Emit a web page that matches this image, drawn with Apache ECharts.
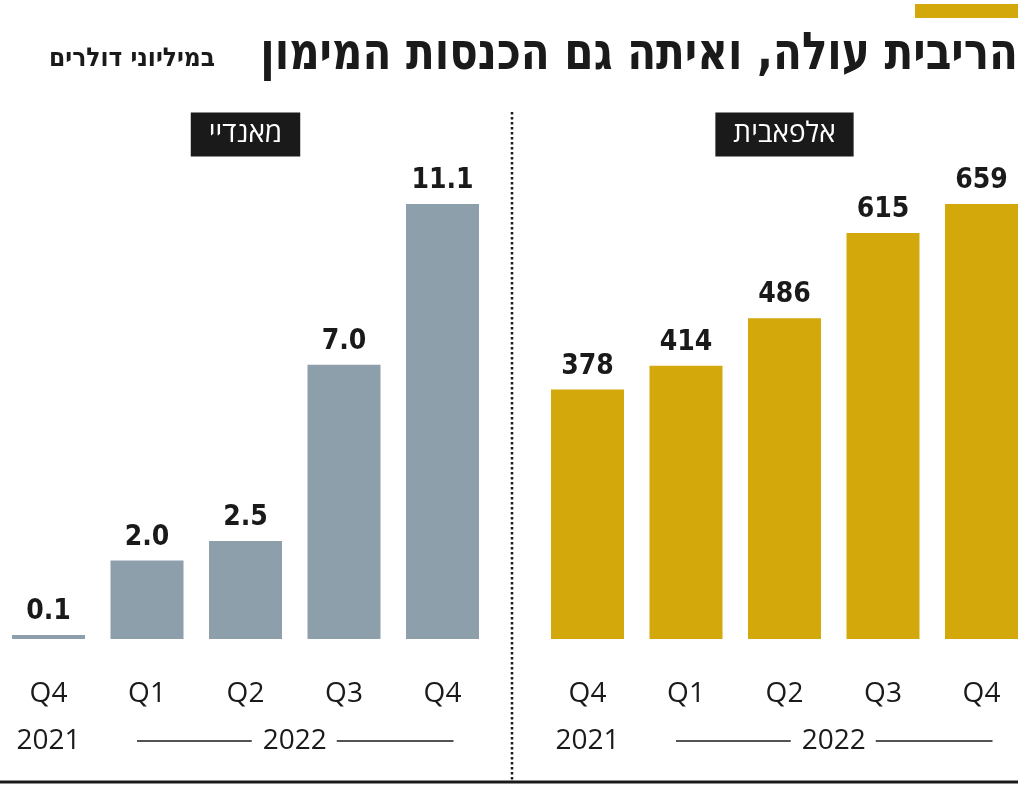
<!DOCTYPE html>
<html>
<head>
<meta charset="utf-8">
<script src="https://cdn.jsdelivr.net/npm/echarts@6/dist/echarts.min.js"></script>
<style>
html,body{margin:0;padding:0;background:#fff;}
#chart{width:1024px;height:786px;}
</style>
</head>
<body>
<div id="chart"></div>
<script>
const categories = ['Q4', 'Q1', 'Q2', 'Q3', 'Q4'];
const yearLabels = ['2021', '2022'];
const mondayName = 'מאנדיי';
const alphabetName = 'אלפאבית';
const mondayValues = [0.1, 2.0, 2.5, 7.0, 11.1];
const alphabetValues = [378, 414, 486, 615, 659];
const titleText = 'הריבית עולה, ואיתה גם הכנסות המימון';
const subtitleText = 'במיליוני דולרים';

const GOLD = '#D3A80B';
const GREY = '#8E9FAC';
const INK = '#1a1a1a';
const LABEL_FONT = '"Open Sans", "DejaVu Sans", sans-serif';
const VALUE_FONT = '"DejaVu Sans Condensed", "DejaVu Sans", sans-serif';

const chart = echarts.init(document.getElementById('chart'), null, {renderer: 'canvas'});

const gridTop = 204, gridBottom = 147;
function xAxis(idx) {
  return {
    type: 'category', gridIndex: idx, data: categories, boundaryGap: false,
    axisLine: {show: false}, axisTick: {show: false},
    axisLabel: {color: INK, fontSize: 28, fontFamily: LABEL_FONT, margin: 41}
  };
}
function yAxis(idx, max) {
  return {type: 'value', gridIndex: idx, min: 0, max: max, show: false, splitLine: {show: false}};
}
function barSeries(idx, data, color, fmt) {
  return {
    type: 'bar', xAxisIndex: idx, yAxisIndex: idx, data: data, barWidth: 73,
    itemStyle: {color: color},
    label: {
      show: true, position: 'top', distance: 9, color: INK,
      fontSize: 28, fontWeight: 'bold', fontFamily: VALUE_FONT,
      formatter: p => fmt(p.value)
    }
  };
}

chart.setOption({
  animation: false,
  grid: [
    {left: 48.5, width: 394, top: gridTop, bottom: gridBottom},
    {left: 587.5, width: 394, top: gridTop, bottom: gridBottom}
  ],
  xAxis: [xAxis(0), xAxis(1)],
  yAxis: [yAxis(0, Math.max(...mondayValues)), yAxis(1, Math.max(...alphabetValues))],
  series: [
    barSeries(0, mondayValues, GREY, v => v.toFixed(1)),
    barSeries(1, alphabetValues, GOLD, v => String(v))
  ]
});

function px(gridIdx, catIdx) {
  return chart.convertToPixel({xAxisIndex: gridIdx}, catIdx);
}
const graphics = [];
graphics.push({type: 'rect', shape: {x: 915, y: 4, width: 103, height: 14}, style: {fill: GOLD}});
graphics.push({type: 'text', x: 1018, y: 55, scaleX: 0.9, style: {
  text: titleText, align: 'right', verticalAlign: 'middle', fill: INK,
  font: 'bold 52px "DejaVu Sans Condensed", "DejaVu Sans", sans-serif'}});
graphics.push({type: 'text', x: 215, y: 59, style: {
  text: subtitleText, align: 'right', verticalAlign: 'middle', fill: INK,
  font: 'bold 26px "DejaVu Sans Condensed", "DejaVu Sans", sans-serif'}});
[[0, mondayName], [1, alphabetName]].forEach(([g, name]) => {
  const cx = px(g, 2);
  graphics.push({type: 'text', x: cx, y: 134.5, style: {
    text: name, align: 'center', verticalAlign: 'middle', fill: '#fff',
    backgroundColor: INK, padding: [9, 18, 7, 18],
    font: '28px "Open Sans", "DejaVu Sans", sans-serif'}});
});
const yearY = 741;
[0, 1].forEach(g => {
  graphics.push({type: 'text', x: px(g, 0), y: yearY, style: {
    text: yearLabels[0], align: 'center', verticalAlign: 'middle', fill: INK,
    font: '28px ' + LABEL_FONT}});
  const mid = (px(g, 2) + px(g, 3)) / 2;
  graphics.push({type: 'text', x: mid, y: yearY, style: {
    text: yearLabels[1], align: 'center', verticalAlign: 'middle', fill: INK,
    font: '28px ' + LABEL_FONT}});
  const left0 = px(g, 1) - 10, right1 = px(g, 4) + 11;
  graphics.push({type: 'line', shape: {x1: left0, y1: yearY, x2: mid - 43, y2: yearY}, style: {stroke: INK, lineWidth: 1.5}});
  graphics.push({type: 'line', shape: {x1: mid + 42, y1: yearY, x2: right1, y2: yearY}, style: {stroke: INK, lineWidth: 1.5}});
});
graphics.push({type: 'line', shape: {x1: 512, y1: 112, x2: 512, y2: 782}, style: {stroke: INK, lineWidth: 2.5, lineDash: [2.5, 2.5]}});
graphics.push({type: 'line', shape: {x1: 0, y1: 782, x2: 1018, y2: 782}, style: {stroke: INK, lineWidth: 3}});

chart.setOption({graphic: graphics});
</script>
</body>
</html>
